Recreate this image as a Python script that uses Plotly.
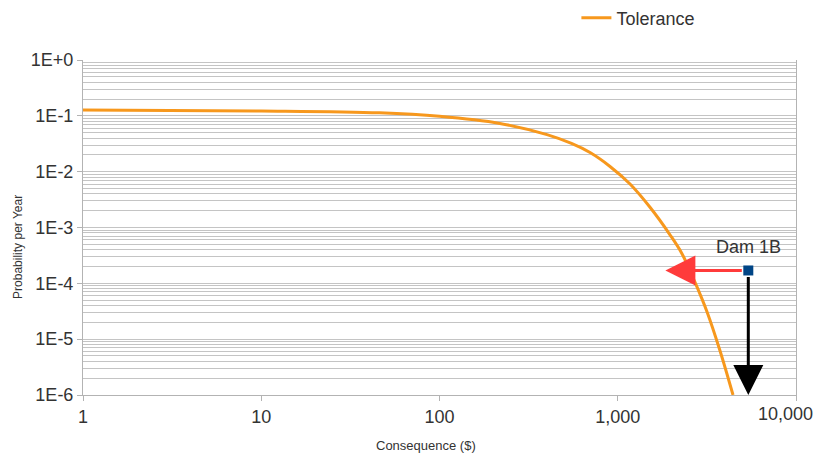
import numpy as np
import plotly.graph_objects as go

# Tolerance curve
tol_x = [1, 10, 46, 100, 218, 401, 550, 699, 905, 1172, 1517, 1964, 2293, 2711, 3167, 3747, 4433]
tol_y = [0.127, 0.122, 0.113, 0.098, 0.073, 0.046, 0.032, 0.022, 0.0124, 0.0060,
         0.0023, 7.4e-4, 3.4e-4, 1.05e-4, 3.1e-5, 6.2e-6, 1.0e-6]

# Dam point and arrow targets
dam_name = "Dam 1B"
dam_x = [5400]
dam_y = [1.7e-4]
red_arrow_x = 1850      # consequence reduction target
black_arrow_y = 1e-6    # probability reduction target

y_tickvals = [1, 1e-1, 1e-2, 1e-3, 1e-4, 1e-5, 1e-6]
y_ticktext = ["1E+0", "1E-1", "1E-2", "1E-3", "1E-4", "1E-5", "1E-6"]
x_tickvals = [1, 10, 100, 1000, 10000]
x_ticktext = ["1", "10", "100", "1,000", "10,000"]

FONT = "Liberation Sans, Arial, sans-serif"
GRID = "#c4c4c4"

fig = go.Figure()
fig.add_trace(go.Scatter(
    x=tol_x, y=tol_y, mode="lines", name="Tolerance",
    line=dict(color="#f7981d", width=3, shape="spline", smoothing=1.0),
))
fig.add_trace(go.Scatter(
    x=dam_x, y=dam_y, mode="markers", name=dam_name, showlegend=False,
    marker=dict(symbol="square", size=10, color="#004586"),
))

lx, ly = np.log10(dam_x[0]), np.log10(dam_y[0])
fig.add_annotation(
    x=np.log10(red_arrow_x), y=ly, ax=lx, ay=ly, xref="x", yref="y", axref="x", ayref="y",
    text="", showarrow=True, arrowhead=2, arrowsize=2.0, arrowwidth=3,
    arrowcolor="#ff3b3b", startstandoff=5,
)
fig.add_annotation(
    x=lx, y=np.log10(black_arrow_y), ax=lx, ay=ly, xref="x", yref="y", axref="x", ayref="y",
    text="", showarrow=True, arrowhead=2, arrowsize=2.0, arrowwidth=3,
    arrowcolor="#000000", startstandoff=5,
)
fig.add_annotation(
    x=lx, y=ly, xref="x", yref="y", text=dam_name, showarrow=False,
    yshift=23, font=dict(family=FONT, size=18, color="#333333"),
)
# last x tick label, kept inside the page edge
fig.add_annotation(
    x=1.0, y=0, xref="paper", yref="paper", text=x_ticktext[-1], showarrow=False,
    xanchor="right", yanchor="top", xshift=19, yshift=-7,
    font=dict(family=FONT, size=18, color="#333333"),
)
# axis titles
fig.add_annotation(
    x=0.481, y=-0.152, xref="paper", yref="paper", text="Consequence ($)", showarrow=False,
    xanchor="center", yanchor="middle", font=dict(family=FONT, size=13, color="#333333"),
)
fig.add_annotation(
    x=-0.0912, y=0.442, xref="paper", yref="paper", text="Probability per Year", showarrow=False,
    textangle=-90, xanchor="center", yanchor="middle", font=dict(family=FONT, size=12, color="#333333"),
)

fig.update_layout(
    width=809, height=445,
    margin=dict(l=75, r=21, t=52, b=58, autoexpand=False),
    paper_bgcolor="white", plot_bgcolor="white",
    font=dict(family=FONT, color="#333333"),
    showlegend=True,
    legend=dict(x=0.692, y=1.125, xanchor="left", yanchor="middle",
                orientation="h", font=dict(family=FONT, size=18, color="#333333"),
                bgcolor="rgba(0,0,0,0)"),
    xaxis=dict(
        type="log", range=[0, 4], tickmode="array", tickvals=x_tickvals,
        ticktext=x_ticktext[:-1] + [""],
        showgrid=False, zeroline=False, showline=True, linecolor="#b3b3b3", linewidth=1,
        ticks="outside", ticklen=5, tickcolor="#b3b3b3", automargin=False,
        tickfont=dict(family=FONT, size=18, color="#333333"),
    ),
    yaxis=dict(
        type="log", range=[-6, 0], tickmode="array", tickvals=y_tickvals, ticktext=y_ticktext,
        showgrid=True, gridcolor=GRID, gridwidth=1, zeroline=False,
        showline=True, mirror=True, linecolor="#b3b3b3", linewidth=1,
        ticks="outside", ticklen=5, tickcolor="#b3b3b3", automargin=False,
        minor=dict(dtick="D1", showgrid=True, gridcolor=GRID, gridwidth=1),
        tickfont=dict(family=FONT, size=18, color="#333333"),
    ),
)

fig.write_html("out.html")
